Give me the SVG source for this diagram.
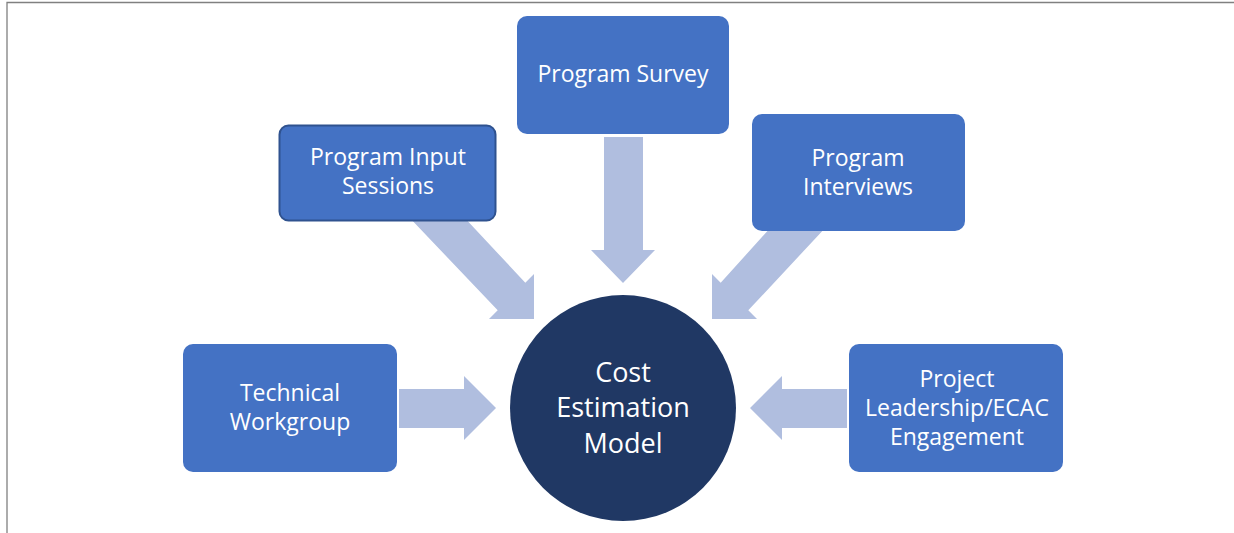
<svg xmlns="http://www.w3.org/2000/svg" width="1234" height="533" viewBox="0 0 1234 533">
<style>
.box{fill:#4472C4}
.arr{fill:#B0BEDF}
.t{font-family:"Open Sans","Noto Sans",sans-serif;fill:#fff;text-anchor:middle}
.bt{font-size:23px}
.ct{font-size:27px}
</style>
<rect width="1234" height="533" fill="#fff"/>
<path d="M7,533 V2.5 H1234" fill="none" stroke="#808080" stroke-width="1.3"/>
<g id="connectors">
<polygon class="arr" points="407,215 462,215 525.3,282.7 534,274 534,319 489,319 497.7,310.3"/>
<polygon class="arr" points="827,226 772,226 720.7,282.7 712,274 712,319 757,319 748.3,310.3"/>
<polygon class="arr" points="604,137 643,137 643,250 655,250 623,283 591,250 604,250"/>
<polygon class="arr" points="399,389 464,389 464,376 496,408 464,440 464,428 399,428"/>
<polygon class="arr" points="847,389 782,389 782,376 750,408 782,440 782,428 847,428"/>
</g>
<g id="program-input-sessions">
<rect class="box" x="279.5" y="125.5" width="216" height="95" rx="9" stroke="#2F528F" stroke-width="2"/>
<text class="t bt" x="388" y="164.5">Program Input</text>
<text class="t bt" x="388" y="194">Sessions</text>
</g>
<g id="program-survey">
<rect class="box" x="517" y="16" width="212" height="118" rx="10"/>
<text class="t bt" x="623" y="82">Program Survey</text>
</g>
<g id="program-interviews">
<rect class="box" x="752" y="114" width="213" height="117" rx="10"/>
<text class="t bt" x="858" y="166">Program</text>
<text class="t bt" x="858" y="195">Interviews</text>
</g>
<g id="technical-workgroup">
<rect class="box" x="183" y="344" width="214" height="128" rx="10"/>
<text class="t bt" x="290" y="401">Technical</text>
<text class="t bt" x="290" y="430">Workgroup</text>
</g>
<g id="project-leadership">
<rect class="box" x="849" y="344" width="214" height="128" rx="10"/>
<text class="t bt" x="957" y="387">Project</text>
<text class="t bt" x="957" y="416">Leadership/ECAC</text>
<text class="t bt" x="957" y="445">Engagement</text>
</g>
<g id="cost-estimation-model">
<circle cx="623" cy="408" r="113" fill="#203864"/>
<text class="t ct" x="623" y="382">Cost</text>
<text class="t ct" x="623" y="417">Estimation</text>
<text class="t ct" x="623" y="453">Model</text>
</g>
</svg>
